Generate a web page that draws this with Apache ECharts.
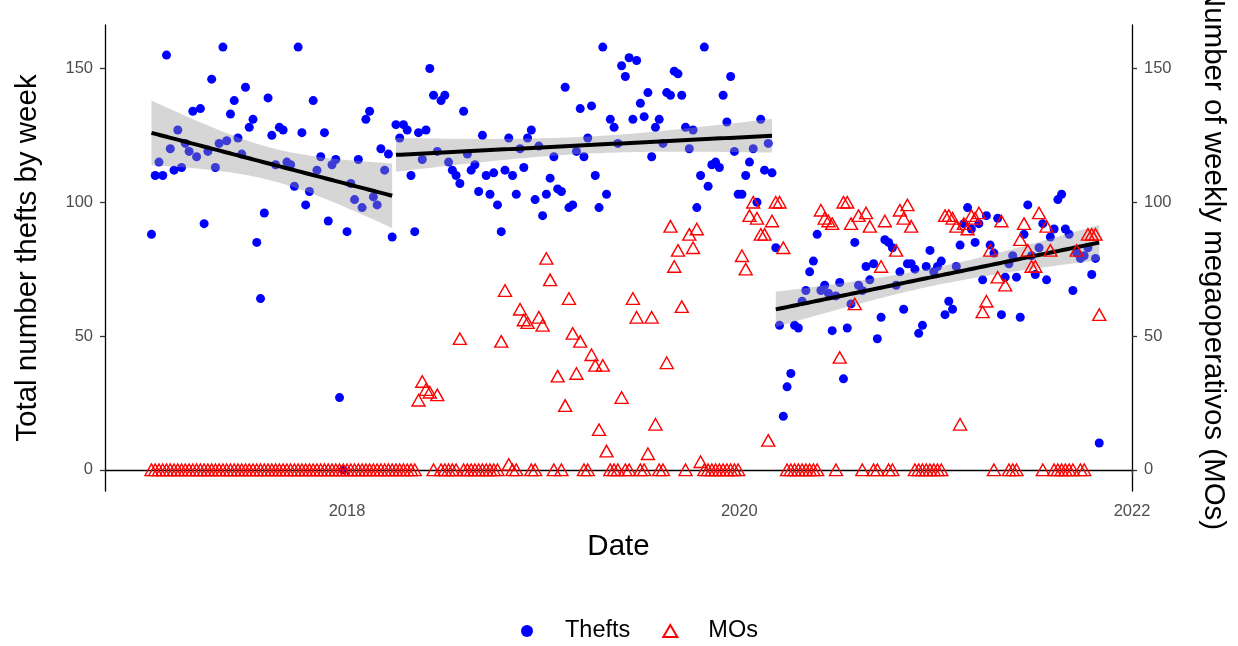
<!DOCTYPE html>
<html><head><meta charset="utf-8">
<script src="https://cdn.jsdelivr.net/npm/echarts@6/dist/echarts.min.js"></script>
<style>html,body{margin:0;padding:0;background:#fff}#c{width:1238px;height:646px}</style>
</head><body><div id="c"></div>
<script>
// Weekly series starting on this date (one value per week)
const weekStart = '2017-01-02';
const thefts = [
88,110,115,110,155,120,112,127,113,122,119,134,117,135,92,119,146,113,122,158,
123,133,138,124,118,143,128,131,85,64,96,139,125,114,128,127,115,114,106,158,
126,99,104,138,112,117,126,93,114,116,27,0,89,107,101,116,98,131,134,102,
99,120,112,118,87,129,124,129,127,110,89,126,116,127,150,140,119,138,140,115,
112,110,107,134,118,112,114,104,125,110,103,111,99,89,112,124,110,103,120,113,
124,127,101,121,95,103,109,117,105,104,143,98,99,119,135,117,124,136,110,98,
158,103,131,128,122,151,147,154,131,153,137,132,141,117,128,131,122,141,140,149,
148,140,128,120,127,98,110,158,106,114,115,113,140,130,147,119,103,103,110,115,
120,100,131,112,122,111,83,54,20,31,36,54,53,63,67,74,78,88,67,69,
66,52,65,70,34,53,62,85,69,67,76,71,77,49,57,86,85,83,69,74,
60,77,77,75,51,54,76,82,74,76,78,58,63,60,76,84,92,98,90,85,
92,71,95,84,81,94,58,72,77,80,72,57,88,99,80,73,83,92,71,87,
90,101,103,90,88,67,81,79,80,83,73,79,10
];
const mos = [
0,0,0,0,0,0,0,0,0,0,0,0,0,0,0,0,0,0,0,0,
0,0,0,0,0,0,0,0,0,0,0,0,0,0,0,0,0,0,0,0,
0,0,0,0,0,0,0,0,0,0,0,0,0,0,0,0,0,0,0,0,
0,0,0,0,0,0,0,0,0,0,0,26,33,30,29,0,28,0,0,0,
0,0,49,0,0,0,0,0,0,0,0,0,0,48,67,2,0,0,60,56,
55,0,0,57,54,79,71,0,35,0,24,64,51,36,48,0,0,43,39,15,
39,7,0,0,0,27,0,0,64,57,0,0,6,57,17,0,0,40,91,76,
82,61,0,88,83,90,3,0,0,0,0,0,0,0,0,0,0,80,75,95,
100,94,88,88,11,93,100,100,83,0,0,0,0,0,0,0,0,0,97,94,
93,92,0,42,100,100,92,62,95,0,96,91,0,0,76,93,0,0,82,97,
94,99,91,0,0,0,0,0,0,0,0,95,95,94,91,17,92,90,95,94,
96,59,63,82,0,72,93,69,0,0,0,86,92,82,76,76,96,0,91,82,
0,0,0,0,0,0,82,0,0,88,88,88,58
];
// Dates at which the fitted trend is broken into separate segments
const segmentBreaks = ['2018-03-30', '2020-03-06'];
const xTickLabels = ['2018', '2020', '2022'];
const yTickValues = [0, 50, 100, 150];
const seriesNames = ['Thefts', 'MOs'];

const DAY = 864e5;
const t0 = Date.parse(weekStart + 'T00:00:00Z');
const dates = thefts.map((_, i) => t0 + i * 7 * DAY);
const breaks = segmentBreaks.map(d => Date.parse(d + 'T00:00:00Z'));
const xTicks = xTickLabels.map(y => Date.UTC(+y, 0, 1));

function tq(df) { // 97.5% Student t quantile (Cornish-Fisher expansion)
  const z = 1.959964;
  return z + (z ** 3 + z) / (4 * df) + (5 * z ** 5 + 16 * z ** 3 + 3 * z) / (96 * df * df)
    + (3 * z ** 7 + 19 * z ** 5 + 17 * z ** 3 - 15 * z) / (384 * df ** 3);
}
function fitSegment(lo, hi) {
  const xs = [], ys = [];
  dates.forEach((d, i) => { if (d >= lo && d < hi) { xs.push(d / DAY); ys.push(thefts[i]); } });
  const n = xs.length;
  const xb = xs.reduce((a, b) => a + b, 0) / n, yb = ys.reduce((a, b) => a + b, 0) / n;
  let sxx = 0, sxy = 0;
  for (let i = 0; i < n; i++) { sxx += (xs[i] - xb) ** 2; sxy += (xs[i] - xb) * (ys[i] - yb); }
  const b = sxy / sxx, a = yb - b * xb;
  let sse = 0;
  for (let i = 0; i < n; i++) sse += (ys[i] - a - b * xs[i]) ** 2;
  const s2 = sse / (n - 2), t = tq(n - 2);
  const x0 = Math.min(...xs), x1 = Math.max(...xs);
  const line = [], band = [];
  const K = 80;
  for (let k = 0; k <= K; k++) {
    const x = x0 + (x1 - x0) * k / K;
    const f = a + b * x;
    const se = Math.sqrt(s2 * (1 / n + (x - xb) ** 2 / sxx));
    line.push([x * DAY, f]);
    band.push([x * DAY, f - t * se, f + t * se]);
  }
  return { line, band };
}
const edges = [-Infinity, ...breaks, Infinity];
const fits = [];
for (let i = 0; i < edges.length - 1; i++) fits.push(fitSegment(edges[i], edges[i + 1]));

const xMin = Date.UTC(2016, 9, 7, 12), xMax = Date.UTC(2022, 0, 1);
const yMin = -7.92, yMax = 166.25;
const FONT = '"Liberation Sans", Arial, sans-serif';

const bandSeries = fits.map(f => ({
  type: 'custom', z: 3, silent: true,
  data: f.band,
  renderItem: function (params, api) {
    if (params.dataIndex !== 0) return null;
    const up = f.band.map(p => api.coord([p[0], p[2]]));
    const dn = f.band.slice().reverse().map(p => api.coord([p[0], p[1]]));
    return { type: 'polygon', shape: { points: up.concat(dn) },
      style: { fill: 'rgba(153,153,153,0.4)', stroke: 'none' } };
  }
}));
const lineSeries = fits.map(f => ({
  type: 'line', z: 4, silent: true, data: f.line, showSymbol: false,
  lineStyle: { color: '#000', width: 4 }
}));

const axisCommon = {
  axisLine: { show: true, lineStyle: { color: '#000', width: 1.3 } },
  axisTick: { show: true, length: 5, lineStyle: { color: '#333', width: 1.3 } },
  axisLabel: { color: '#4D4D4D', fontSize: 16.5, fontFamily: FONT },
  splitLine: { show: false },
  nameTextStyle: { color: '#000', fontSize: 29.5, fontFamily: FONT }
};

const chart = echarts.init(document.getElementById('c'), null, { renderer: 'canvas' });
chart.setOption({
  animation: false,
  backgroundColor: '#fff',
  grid: { left: 105, top: 25, width: 1027, height: 466, containLabel: false, outerBoundsMode: 'none' },
  xAxis: Object.assign({}, axisCommon, {
    type: 'value', min: xMin, max: xMax,
    name: 'Date', nameLocation: 'middle', nameGap: 41,
    axisTick: Object.assign({}, axisCommon.axisTick, { customValues: xTicks }),
    axisLabel: Object.assign({}, axisCommon.axisLabel, { customValues: xTicks, margin: 12,
      formatter: v => String(new Date(v).getUTCFullYear()) })
  }),
  yAxis: [
    Object.assign({}, axisCommon, {
      type: 'value', min: yMin, max: yMax, position: 'left',
      name: 'Total number thefts by week', nameLocation: 'middle', nameGap: 62,
      axisTick: Object.assign({}, axisCommon.axisTick, { customValues: yTickValues }),
      axisLabel: Object.assign({}, axisCommon.axisLabel, { customValues: yTickValues, margin: 12 })
    }),
    Object.assign({}, axisCommon, {
      type: 'value', min: yMin, max: yMax, position: 'right',
      name: 'Number of weekly megaoperativos (MOs)', nameLocation: 'middle', nameGap: 66, nameRotate: -90,
      axisTick: Object.assign({}, axisCommon.axisTick, { customValues: yTickValues }),
      axisLabel: Object.assign({}, axisCommon.axisLabel, { customValues: yTickValues, margin: 12 })
    })
  ],
  legend: {
    top: 619, left: 521, padding: 0, itemGap: 32, itemWidth: 14, itemHeight: 12,
    textStyle: { color: '#000', fontSize: 23.5, fontFamily: FONT, padding: [0, 0, 0, 26] },
    data: [{ name: seriesNames[0], icon: 'circle' }, { name: seriesNames[1], icon: 'triangle' }]
  },
  series: [
    { name: seriesNames[0], type: 'scatter', z: 2, symbol: 'circle', symbolSize: 9,
      itemStyle: { color: '#0000FF', opacity: 1 },
      data: dates.map((d, i) => [d, thefts[i]]) },
    ...bandSeries,
    ...lineSeries,
    { name: seriesNames[1], type: 'scatter', z: 5, symbol: 'triangle', symbolSize: [13, 11.5],
      itemStyle: { color: 'rgba(255,0,0,0)', borderColor: '#FF0000', borderWidth: 1.4, opacity: 1 },
      data: dates.map((d, i) => [d, mos[i]]) }
  ]
});
</script></body></html>
